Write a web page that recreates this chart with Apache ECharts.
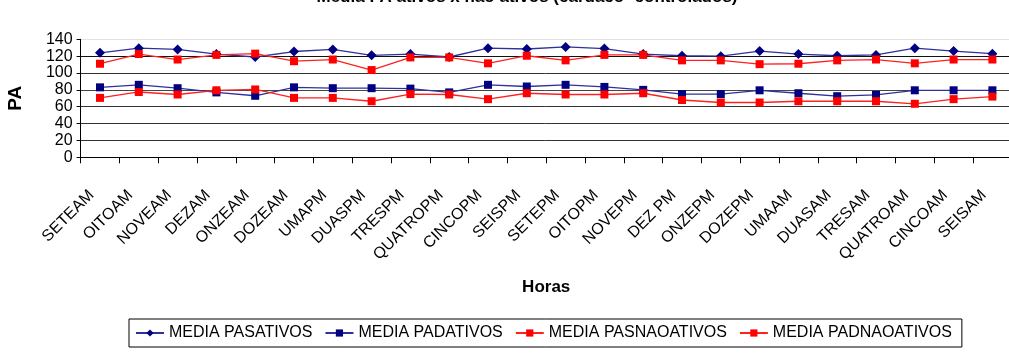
<!DOCTYPE html>
<html>
<head>
<meta charset="utf-8">
<script src="https://cdn.jsdelivr.net/npm/echarts@6/dist/echarts.min.js"></script>
<style>
  html, body { margin: 0; padding: 0; background: #fff; }
  #chart { width: 1009px; height: 353px; }
</style>
</head>
<body>
<div id="chart"></div>
<script>
// horas (eixo x)
const categories = ['SETEAM', 'OITOAM', 'NOVEAM', 'DEZAM', 'ONZEAM', 'DOZEAM', 'UMAPM', 'DUASPM', 'TRESPM', 'QUATROPM',
  'CINCOPM', 'SEISPM', 'SETEPM', 'OITOPM', 'NOVEPM', 'DEZ PM', 'ONZEPM', 'DOZEPM', 'UMAAM', 'DUASAM', 'TRESAM',
  'QUATROAM', 'CINCOAM', 'SEISAM'];

const pasAtivos = [124, 129.5, 128, 122.5, 119, 125.5, 128, 121, 122.5, 119, 129.5, 128.5, 131, 129, 122.5, 120.5,
  120, 126, 122.5, 120.5, 121.5, 129.5, 126, 123];
const padAtivos = [83, 86, 82, 77, 73, 83, 82, 82, 81.5, 77, 86, 84, 86, 83.5, 80, 75, 75, 79.5, 76, 72.5, 74, 79.5, 79.5, 79.5];
const pasNaoAtivos = [111, 122.5, 116, 121.5, 123, 114, 116, 103.5, 118.5, 118.5, 111.5, 120.5, 115, 121.5, 121.5, 115,
  115, 110.5, 111, 115, 116, 111.5, 116, 116];
const padNaoAtivos = [70.5, 77.5, 74.5, 79.5, 80.5, 70.5, 70.5, 66.5, 75, 74.5, 69, 76, 74.5, 74.5, 76, 68, 65, 65, 66.5,
  66.5, 66.5, 63.5, 69, 72];

const yTicks = [0, 20, 40, 60, 80, 100, 120, 140];

const FONT = '"Liberation Sans", Arial, sans-serif';

const chart = echarts.init(document.getElementById('chart'), null, { renderer: 'canvas' });

function lineSeries(name, data, color, lineColor, symbol, size) {
  return {
    name: name,
    type: 'line',
    data: data,
    symbol: symbol,
    symbolSize: size,
    showSymbol: true,
    lineStyle: { color: lineColor, width: 1.3 },
    itemStyle: { color: color, borderWidth: 0 },
    animation: false
  };
}

const option = {
  animation: false,
  title: {
    text: 'Media PA ativos x não ativos (cardaco- controlados)',
    left: 522,
    textAlign: 'center',
    top: -16,
    textStyle: { fontFamily: FONT, fontSize: 17, fontWeight: 'bold', color: '#000' }
  },
  grid: {
    left: 80.6,
    top: 39.3,
    width: 931.2,
    height: 118,
    containLabel: false,
    outerBoundsMode: 'none'
  },
  legend: {
    left: 129,
    top: 319,
    orient: 'horizontal',
    itemWidth: 28,
    itemHeight: 9,
    itemGap: 12,
    padding: [6, 10, 6, 6],
    borderColor: '#000',
    borderWidth: 1,
    textStyle: { fontFamily: FONT, fontSize: 16, color: '#000' },
    data: ['MEDIA PASATIVOS', 'MEDIA PADATIVOS', 'MEDIA PASNAOATIVOS', 'MEDIA PADNAOATIVOS']
  },
  xAxis: {
    type: 'category',
    data: categories,
    boundaryGap: true,
    name: 'Horas',
    nameLocation: 'middle',
    nameGap: 122,
    nameTextStyle: { fontFamily: FONT, fontSize: 17, fontWeight: 'bold', color: '#000' },
    axisLine: { lineStyle: { color: '#000', width: 1 } },
    axisTick: { show: true, length: 6, lineStyle: { color: '#000' } },
    axisLabel: {
      interval: 0,
      rotate: 45,
      margin: 27,
      padding: [0, 12, 0, 0],
      fontFamily: FONT,
      fontSize: 16,
      color: '#000'
    },
    splitLine: { show: false }
  },
  yAxis: {
    type: 'value',
    min: yTicks[0],
    max: yTicks[yTicks.length - 1],
    interval: 20,
    name: 'PA',
    nameLocation: 'middle',
    nameGap: 55,
    nameRotate: 90,
    nameTextStyle: { fontFamily: FONT, fontSize: 19, fontWeight: 'bold', color: '#000' },
    axisLine: { show: true, lineStyle: { color: '#000', width: 1 } },
    axisTick: { show: true, length: 4, lineStyle: { color: '#000' } },
    axisLabel: { fontFamily: FONT, fontSize: 16, color: '#000', margin: 8 },
    splitLine: {
      show: true,
      lineStyle: {
        color: ['#000', '#333', '#333', '#333', '#444', '#333', '#111', '#e2e2e2'],
        width: 1
      }
    }
  },
  series: [
    lineSeries('MEDIA PASATIVOS', pasAtivos, '#000080', '#30309a', 'diamond', 10),
    lineSeries('MEDIA PADATIVOS', padAtivos, '#000080', '#30309a', 'rect', 8),
    lineSeries('MEDIA PASNAOATIVOS', pasNaoAtivos, '#ff0000', '#ff2020', 'rect', 8),
    lineSeries('MEDIA PADNAOATIVOS', padNaoAtivos, '#ff0000', '#ff2020', 'rect', 8)
  ]
};

chart.setOption(option);
</script>
</body>
</html>
